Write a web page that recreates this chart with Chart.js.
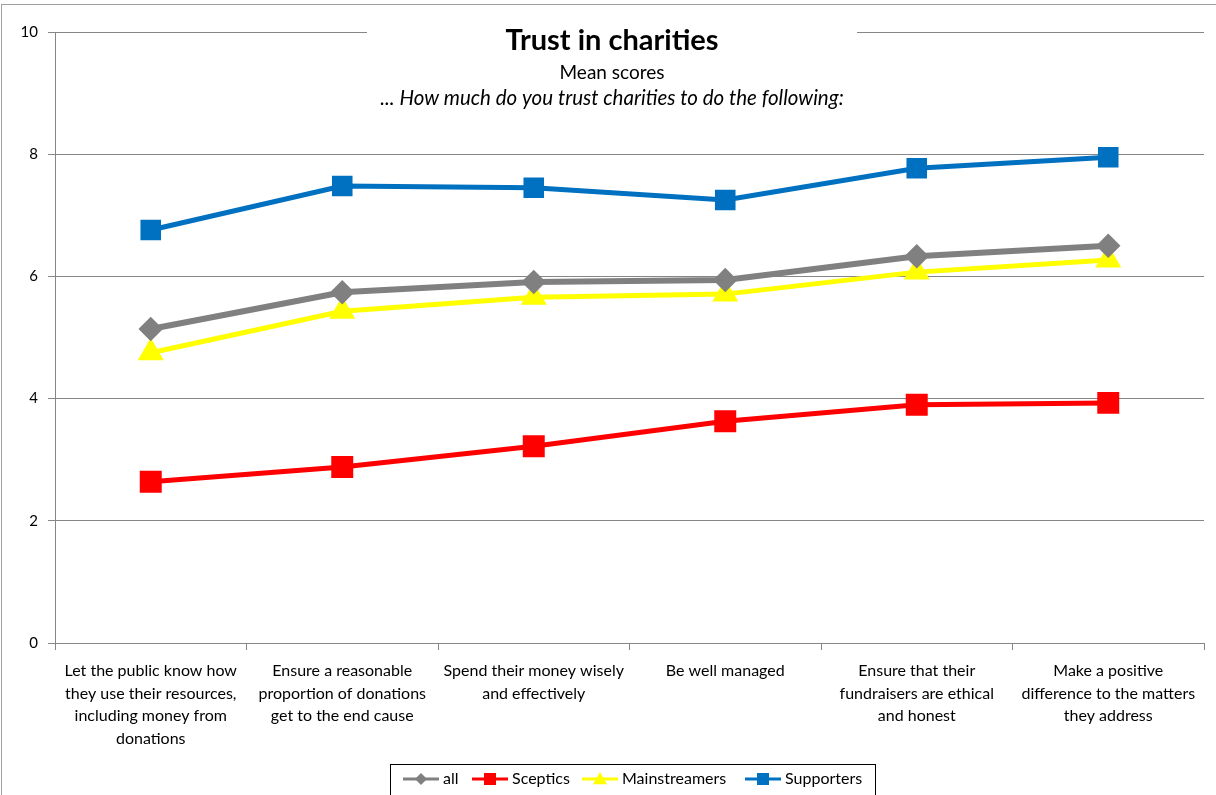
<!DOCTYPE html>
<html>
<head>
<meta charset="utf-8">
<script src="https://cdn.jsdelivr.net/npm/chart.js@4"></script>
<style>
  html, body { margin: 0; padding: 0; background: #fff; }
  #wrap { position: relative; width: 1216px; height: 795px; overflow: hidden; }
  #frame { position: absolute; left: 1px; top: 4px; width: 1300px; height: 900px; border-left: 1px solid #a0a0a0; border-top: 1px solid #a0a0a0; pointer-events: none; }
  canvas { position: absolute; left: 0; top: 0; }
</style>
</head>
<body>
<div id="wrap">
  <canvas id="chart" width="1216" height="795"></canvas>
  <div id="frame"></div>
</div>
<script>
// Categories (x axis labels, already split in lines)
const categories = [
    ['Let the public know how', 'they use their resources,', 'including money from', 'donations'],
    ['Ensure a reasonable', 'proportion of donations', 'get to the end cause'],
    ['Spend their money wisely', 'and effectively'],
    ['Be well managed'],
    ['Ensure that their', 'fundraisers are ethical', 'and honest'],
    ['Make a positive', 'difference to the matters', 'they address']
];

// Series values (mean scores)
const allValues = [5.14, 5.74, 5.91, 5.94, 6.33, 6.50];
const scepticsValues = [2.64, 2.88, 3.22, 3.63, 3.90, 3.93];
const mainstreamersValues = [4.75, 5.43, 5.66, 5.71, 6.07, 6.27];
const supportersValues = [6.76, 7.48, 7.45, 7.25, 7.77, 7.95];

const yTicks = [0, 2, 4, 6, 8, 10];

const FONT = 'Lato, "Open Sans", sans-serif';

// Title drawn inside the plot with a white box behind it
const titlePlugin = {
    id: 'boxTitle',
    afterDraw(chart) {
        const ctx = chart.ctx;
        ctx.save();
        ctx.fillStyle = '#fff';
        ctx.fillRect(367, 24, 490, 90);
        ctx.fillStyle = '#000';
        ctx.textAlign = 'center';
        ctx.textBaseline = 'middle';
        ctx.font = 'bold 29px ' + FONT;
        ctx.fillText('Trust in charities', 612, 41);
        ctx.font = '19px ' + FONT;
        ctx.fillText('Mean scores', 612, 73);
        ctx.font = 'italic 20.5px ' + FONT;
        ctx.fillText('... How much do you trust charities to do the following:', 612, 98);
        ctx.restore();
    }
};

function drawMarker(ctx, style, x, y, r) {
    ctx.beginPath();
    if (style === 'rectRot') {
        ctx.moveTo(x, y - r); ctx.lineTo(x + r, y); ctx.lineTo(x, y + r); ctx.lineTo(x - r, y);
    } else if (style === 'triangle') {
        ctx.moveTo(x, y - r); ctx.lineTo(x + r, y + r * 0.75); ctx.lineTo(x - r, y + r * 0.75);
    } else {
        ctx.rect(x - r * 0.75, y - r * 0.75, r * 1.5, r * 1.5);
    }
    ctx.closePath();
    ctx.fill();
}

// Legend with line + marker, boxed at the bottom
const legendPlugin = {
    id: 'boxLegend',
    afterDraw(chart) {
        const ctx = chart.ctx;
        const itemX = [403, 472, 582, 745];
        const y = 779;
        ctx.save();
        ctx.strokeStyle = '#000';
        ctx.lineWidth = 1;
        ctx.strokeRect(390.5, 764.5, 485, 40);
        chart.data.datasets.forEach((ds, i) => {
            const x = itemX[i];
            ctx.strokeStyle = ds.borderColor;
            ctx.lineWidth = 3;
            ctx.beginPath();
            ctx.moveTo(x, y);
            ctx.lineTo(x + 36, y);
            ctx.stroke();
            const r = ds.pointStyle === 'rectRot' ? 6 : ds.pointStyle === 'triangle' ? 7 : 8;
            ctx.fillStyle = ds.borderColor;
            drawMarker(ctx, ds.pointStyle, x + 18, y, r);
            ctx.fillStyle = '#000';
            ctx.font = '16px ' + FONT;
            ctx.textBaseline = 'middle';
            ctx.fillText(ds.label, x + 40, y);
        });
        ctx.restore();
    }
};

function series(label, data, color, style, radius, width) {
    return {
        label: label,
        data: data,
        borderColor: color,
        backgroundColor: color,
        pointBackgroundColor: color,
        pointBorderColor: color,
        pointStyle: style,
        pointRadius: radius,
        pointHoverRadius: radius,
        borderWidth: width,
        tension: 0
    };
}

new Chart(document.getElementById('chart'), {
    type: 'line',
    data: {
        labels: categories,
        datasets: [
            series('all', allValues, '#808080', 'rectRot', 8, 6),
            series('Sceptics', scepticsValues, '#ff0000', 'rect', 12, 5),
            series('Mainstreamers', mainstreamersValues, '#ffff00', 'triangle', 10, 5),
            series('Supporters', supportersValues, '#0070c0', 'rect', 11, 5)
        ]
    },
    options: {
        responsive: false,
        animation: false,
        layout: { autoPadding: false, padding: { top: 32, right: 12, left: 0, bottom: 0 } },
        plugins: {
            legend: { display: false },
            title: { display: false },
            tooltip: { enabled: false }
        },
        scales: {
            x: {
                offset: true,
                grid: { display: true, offset: true, drawOnChartArea: false, color: '#868686', tickLength: 7 },
                border: { color: '#868686' },
                ticks: { color: '#000', font: { family: FONT, size: 16, lineHeight: 1.4 }, padding: 10, maxRotation: 0, autoSkip: false },
                afterFit(scale) {
                    scale.height = 152;
                    scale.paddingLeft = 0;
                    scale.paddingRight = 0;
                }
            },
            y: {
                min: 0,
                max: 10,
                afterBuildTicks(scale) { scale.ticks = yTicks.map(v => ({ value: v })); },
                grid: { color: '#868686', tickLength: 7 },
                border: { color: '#868686' },
                ticks: { color: '#000', font: { family: FONT, size: 15 }, padding: 10 },
                afterFit(scale) { scale.width = 55; }
            }
        }
    },
    plugins: [titlePlugin, legendPlugin]
});
</script>
</body>
</html>
